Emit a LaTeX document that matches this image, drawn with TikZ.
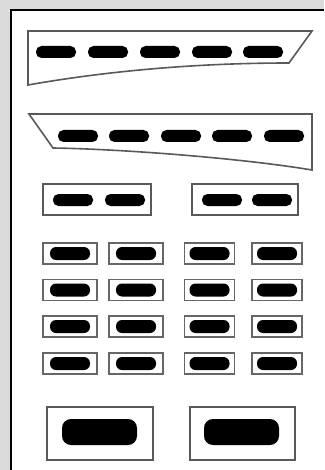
\documentclass[tikz,border=0pt]{standalone}
\begin{document}
\begin{tikzpicture}[x=1pt,y=-1pt,
  bar/.style={fill=black, rounded corners=5.5pt, minimum width=40pt, minimum height=12pt, inner sep=0pt},
  smallbar/.style={fill=black, rounded corners=6pt, minimum width=40pt, minimum height=13pt, inner sep=0pt},
  bigbar/.style={fill=black, rounded corners=9pt, minimum width=75pt, minimum height=26pt, inner sep=0pt},
  frame/.style={draw=black!65, line width=1.6pt},
  pairbox/.style={frame, minimum height=31pt, inner sep=0pt},
  cellbox/.style={draw=black!60, line width=1.8pt, minimum height=21pt, inner sep=0pt},
  bigbox/.style={frame, minimum height=53pt, inner sep=0pt}]
\useasboundingbox (0,0) rectangle (324,470);
\fill[black!14] (0,0) rectangle (324,470);
\fill[white] (11,10) rectangle (324,470);
\draw[black, line width=2.6pt] (11,470) -- (11,10) -- (324,10);
% top wedge
\draw[frame, line join=miter] (28,31) -- (312,31) -- (289,63) .. controls (180,63) and (90,74) .. (28,85) -- cycle;
\foreach \x [count=\i] in {56,108,160,212,263} \node[bar] (a\i) at (\x,52) {};
% second wedge
\draw[frame, line join=miter] (29,114) -- (312,114) -- (312,170) .. controls (240,158) and (120,149) .. (53,148) -- cycle;
\foreach \x [count=\i] in {78,129,181,232,284} \node[bar] (b\i) at (\x,136) {};
% pair boxes
\node[pairbox, minimum width=108pt] (p1) at (97,199.5) {};
\node[pairbox, minimum width=106pt] (p2) at (245,199.5) {};
\node[bar] (p1a) at (73,200) {};
\node[bar] (p1b) at (125,200) {};
\node[bar] (p2a) at (222,200) {};
\node[bar] (p2b) at (272,200) {};
% grid of small boxes
\foreach \y [count=\r] in {253.5,290,326.5,363.5} {
  \foreach \x/\w [count=\c] in {70/54,136/54,209.5/50,277/50} {
    \node[cellbox, minimum width=\w pt] (c\r\c) at (\x,\y) {};
    \node[smallbar] (d\r\c) at (\x,\y) {};
  }
}
% big boxes
\node[bigbox, minimum width=106pt] (g1) at (100,433.5) {};
\node[bigbox, minimum width=105pt] (g2) at (242.5,433.5) {};
\node[bigbar] (h1) at (99.5,432) {};
\node[bigbar] (h2) at (241.5,432) {};
\end{tikzpicture}
\end{document}
